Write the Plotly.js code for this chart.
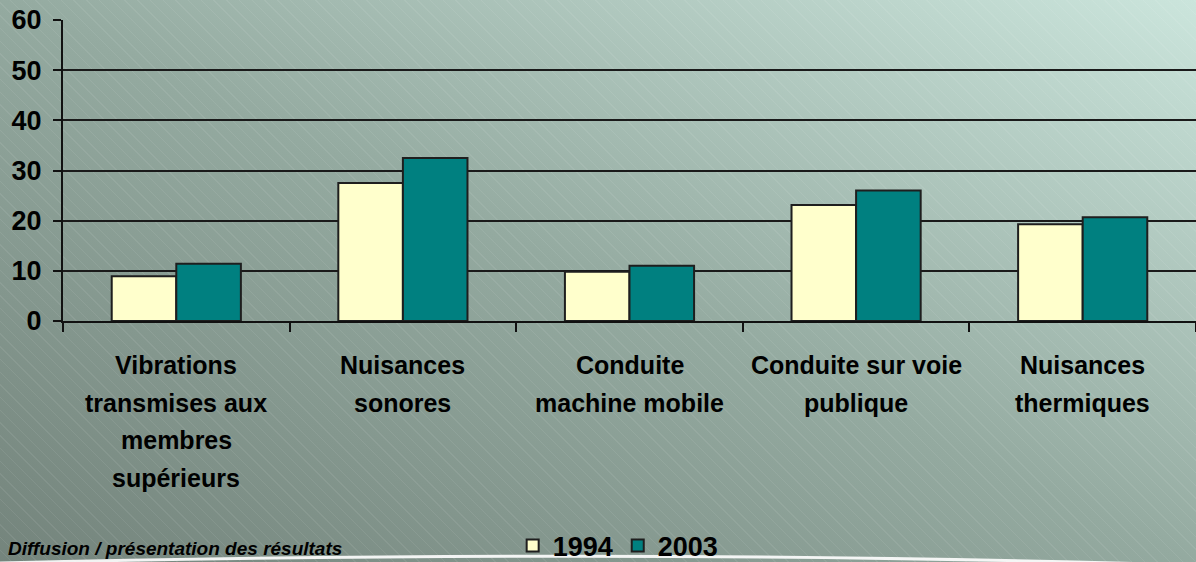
<!DOCTYPE html>
<html>
<head>
<meta charset="utf-8">
<script src="https://cdn.plot.ly/plotly-3.0.1.min.js"></script>
<style>
  html, body { margin: 0; padding: 0; }
  #wrap {
    width: 1196px; height: 562px; position: relative; overflow: hidden;
    background:
      repeating-linear-gradient(45deg, rgba(255,255,255,0) 0px, rgba(255,255,255,0) 8px, rgba(255,255,255,0.07) 8px, rgba(255,255,255,0.07) 9px),
      linear-gradient(to top right, #74847c 0%, #94aaa0 50%, #cbe5dc 100%);
  }
  #chart { width: 1196px; height: 562px; }
</style>
</head>
<body>
<div id="wrap"><div id="chart"></div></div>
<script>
const categories = [
  "Vibrations<br>transmises aux<br>membres<br>supérieurs",
  "Nuisances<br>sonores",
  "Conduite<br>machine mobile",
  "Conduite sur voie<br>publique",
  "Nuisances<br>thermiques"
];
const values1994 = [8.9, 27.5, 9.8, 23.1, 19.3];
const values2003 = [11.4, 32.5, 11.0, 26.0, 20.7];
const seriesNames = ["1994", "2003"];
const yTicks = [0, 10, 20, 30, 40, 50, 60];

const FONT = '"Liberation Sans", Arial, sans-serif';
const PLOT_H = 562 - 20 - 241; // plot area height in px

const traces = [
  {
    type: 'bar', name: seriesNames[0], x: categories, y: values1994,
    marker: { color: '#ffffcc', line: { color: '#1e1e1e', width: 2 } },
    hoverinfo: 'skip'
  },
  {
    type: 'bar', name: seriesNames[1], x: categories, y: values2003,
    marker: { color: '#008080', line: { color: '#1e1e1e', width: 2 } },
    hoverinfo: 'skip'
  }
];

// Category labels: one annotation per text line (to get the wider line spacing)
const labelAnnotations = [];
categories.forEach(function (cat) {
  cat.split('<br>').forEach(function (line, i) {
    labelAnnotations.push({
      text: line, xref: 'x', yref: 'paper',
      x: cat, y: -(44 + i * 37.5) / PLOT_H,
      xanchor: 'center', yanchor: 'middle', showarrow: false,
      font: { family: FONT, size: 25, color: '#000', weight: 'bold' }
    });
  });
});

const layout = {
  width: 1196, height: 562,
  paper_bgcolor: 'rgba(0,0,0,0)',
  plot_bgcolor: 'rgba(0,0,0,0)',
  margin: { l: 63, r: 0, t: 20, b: 241, pad: 0, autoexpand: false },
  barmode: 'group',
  bargap: 0.43,
  bargroupgap: 0,
  font: { family: FONT, color: '#000' },
  xaxis: {
    type: 'category',
    showline: true, linecolor: '#111', linewidth: 2,
    ticks: 'outside', tickson: 'boundaries', ticklen: 9, tickwidth: 2, tickcolor: '#111',
    showticklabels: false,
    showgrid: false,
    fixedrange: true
  },
  yaxis: {
    range: [0, 60],
    tickvals: yTicks,
    ticktext: yTicks.map(String),
    showline: true, linecolor: '#111', linewidth: 2,
    ticks: 'outside', ticklen: 8, tickwidth: 2, tickcolor: '#111',
    tickfont: { family: FONT, size: 27, color: '#000', weight: 'bold' },
    ticklabelstandoff: 6,
    showgrid: true, gridcolor: '#1a1a1a', gridwidth: 2,
    zeroline: false,
    fixedrange: true
  },
  legend: {
    orientation: 'h',
    xref: 'paper', x: 0.49, xanchor: 'center',
    yref: 'container', y: 0.072, yanchor: 'top',
    font: { family: FONT, size: 27, color: '#000', weight: 'bold' },
    bgcolor: 'rgba(0,0,0,0)',
    itemwidth: 30,
    traceorder: 'normal'
  },
  annotations: labelAnnotations.concat([
    {
      text: '<i>Diffusion / présentation des résultats</i>',
      xref: 'paper', yref: 'paper', x: -0.05, y: -0.797,
      xanchor: 'left', yanchor: 'bottom', showarrow: false,
      font: { family: FONT, size: 19, color: '#000', weight: 'bold' }
    }
  ]),
  shapes: [
    {
      type: 'path', xref: 'paper', yref: 'paper',
      path: 'M -0.06,-0.804 Q 0.52,-0.754 1.02,-0.814',
      line: { color: 'rgba(255,255,255,0.9)', width: 3 },
      layer: 'below'
    }
  ],
  showlegend: true
};

Plotly.newPlot('chart', traces, layout, { staticPlot: true, displayModeBar: false });
</script>
</body>
</html>
